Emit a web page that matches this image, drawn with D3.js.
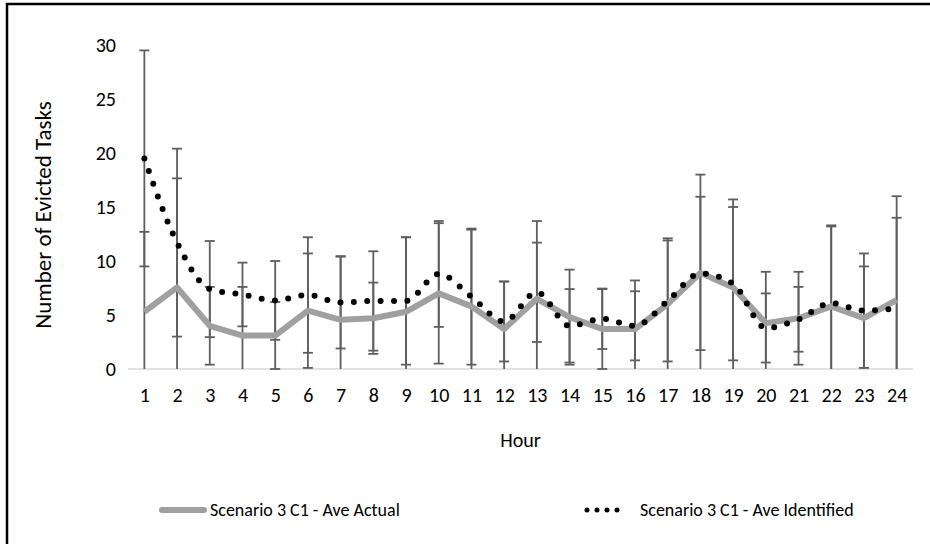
<!DOCTYPE html>
<html>
<head>
<meta charset="utf-8">
<script src="https://cdn.jsdelivr.net/npm/d3@7"></script>
<style>
  html, body { margin: 0; padding: 0; background: #fff; }
  svg text { font-family: Calibri, Carlito, Lato, "Open Sans", sans-serif; fill: #000; }
</style>
</head>
<body>
<svg id="chart" width="930" height="544"></svg>
<script>
// Hourly evicted-task averages with standard-deviation error bars
const hours = d3.range(1, 25);
const yTicks = [0, 5, 10, 15, 20, 25, 30];

const actual        = [5.3, 7.55, 4.0, 3.1, 3.1, 5.4, 4.55, 4.7, 5.3, 7.0, 5.8, 3.7, 6.5, 4.8, 3.7, 3.7, 6.0, 8.9, 7.55, 4.25, 4.7, 5.8, 4.7, 6.4];
const actualErr     = [7.4, 10.1, 3.6, 4.5, 3.1, 5.3, 5.9, 3.3, 6.9, 6.5, 7.1, 4.4, 7.2, 4.4, 3.7, 4.5, 6.1, 9.1, 8.15, 4.75, 4.3, 7.5, 4.8, 9.6];
const identified    = [19.5, 11.7, 7.4, 6.9, 6.35, 6.85, 6.15, 6.3, 6.3, 8.8, 6.7, 4.4, 7.1, 4.0, 4.65, 4.0, 6.3, 8.85, 7.9, 3.8, 4.6, 6.1, 5.4, 5.6];
const identifiedErr = [10.0, 8.7, 4.45, 2.95, 3.65, 5.35, 4.25, 4.6, 5.9, 4.9, 6.3, 3.7, 4.6, 3.4, 2.8, 3.2, 5.6, 7.1, 7.1, 3.2, 3.0, 7.1, 5.3, 8.4];

const seriesNames = ["Scenario 3 C1 - Ave Actual", "Scenario 3 C1 - Ave Identified"];

const svg = d3.select("#chart");
const plot = { left: 128, right: 913, top: 45, bottom: 369 };

const x = d3.scalePoint().domain(hours).range([plot.left, plot.right]).padding(0.5);
const y = d3.scaleLinear().domain([0, 30]).range([plot.bottom, plot.top]);

// outer frame (left and top edges)
svg.append("path")
  .attr("d", "M7,544 V4 H930")
  .attr("fill", "none").attr("stroke", "#000").attr("stroke-width", 2.5);

// horizontal category axis
const xAxis = svg.append("g")
  .attr("transform", `translate(0,${plot.bottom})`)
  .call(d3.axisBottom(x).tickSize(0).tickPadding(19));
xAxis.select(".domain").attr("stroke", "#d9d9d9").attr("stroke-width", 1.5)
  .attr("d", `M${plot.left},0H${plot.right}`);
xAxis.selectAll("text").attr("font-size", 20).style("font-family", null);

// value axis (labels only)
const yAxis = svg.append("g")
  .attr("transform", `translate(${plot.left},0)`)
  .call(d3.axisLeft(y).tickValues(yTicks).tickSize(0).tickPadding(12));
yAxis.select(".domain").remove();
yAxis.selectAll("text").attr("font-size", 20).style("font-family", null);
svg.selectAll(".tick text").attr("fill", "#000");

// axis titles
svg.append("text")
  .attr("transform", `translate(43,${(plot.top + plot.bottom) / 2 + 8}) rotate(-90)`)
  .attr("text-anchor", "middle").attr("dominant-baseline", "central")
  .attr("font-size", 23).text("Number of Evicted Tasks");
svg.append("text")
  .attr("x", (plot.left + plot.right) / 2).attr("y", 440)
  .attr("text-anchor", "middle").attr("dominant-baseline", "central")
  .attr("font-size", 20).text("Hour");

// error bars for both series, clipped at the axis minimum
const errColor = "#5e5e5e";
function errorBars(vals, errs) {
  const g = svg.append("g").attr("stroke", errColor).attr("stroke-width", 1.8);
  hours.forEach((h, i) => {
    const hi = vals[i] + errs[i];
    const lo = vals[i] - errs[i];
    const cx = x(h);
    const yHi = y(Math.min(hi, 30));
    const yLo = y(Math.max(lo, 0));
    g.append("line").attr("x1", cx).attr("x2", cx).attr("y1", yHi).attr("y2", yLo);
    g.append("line").attr("x1", cx - 5).attr("x2", cx + 5).attr("y1", yHi).attr("y2", yHi);
    if (lo >= 0) g.append("line").attr("x1", cx - 5).attr("x2", cx + 5).attr("y1", yLo).attr("y2", yLo);
  });
}
errorBars(actual, actualErr);
errorBars(identified, identifiedErr);

// actual series: thick grey polyline
const lineStraight = d3.line().x((d, i) => x(hours[i])).y(d => y(d));
svg.append("path").datum(actual)
  .attr("d", lineStraight)
  .attr("fill", "none").attr("stroke", "#a0a0a0").attr("stroke-width", 6)
  .attr("stroke-linejoin", "round");

// identified series: smoothed round-dot line
const lineSmooth = d3.line().x((d, i) => x(hours[i])).y(d => y(d)).curve(d3.curveMonotoneX);
svg.append("path").datum(identified)
  .attr("d", lineSmooth)
  .attr("fill", "none").attr("stroke", "#000").attr("stroke-width", 6)
  .attr("stroke-linecap", "round").attr("stroke-dasharray", "0 13.4");

// legend
const ly = 510;
svg.append("line").attr("x1", 162).attr("x2", 204).attr("y1", ly).attr("y2", ly)
  .attr("stroke", "#a0a0a0").attr("stroke-width", 6).attr("stroke-linecap", "round");
svg.append("text").attr("x", 210).attr("y", ly).attr("dominant-baseline", "central")
  .attr("font-size", 18).text(seriesNames[0]);
svg.append("line").attr("x1", 587).attr("x2", 627).attr("y1", ly).attr("y2", ly)
  .attr("stroke", "#000").attr("stroke-width", 5).attr("stroke-linecap", "round")
  .attr("stroke-dasharray", "0 10");
svg.append("text").attr("x", 640).attr("y", ly).attr("dominant-baseline", "central")
  .attr("font-size", 18).text(seriesNames[1]);
</script>
</body>
</html>
